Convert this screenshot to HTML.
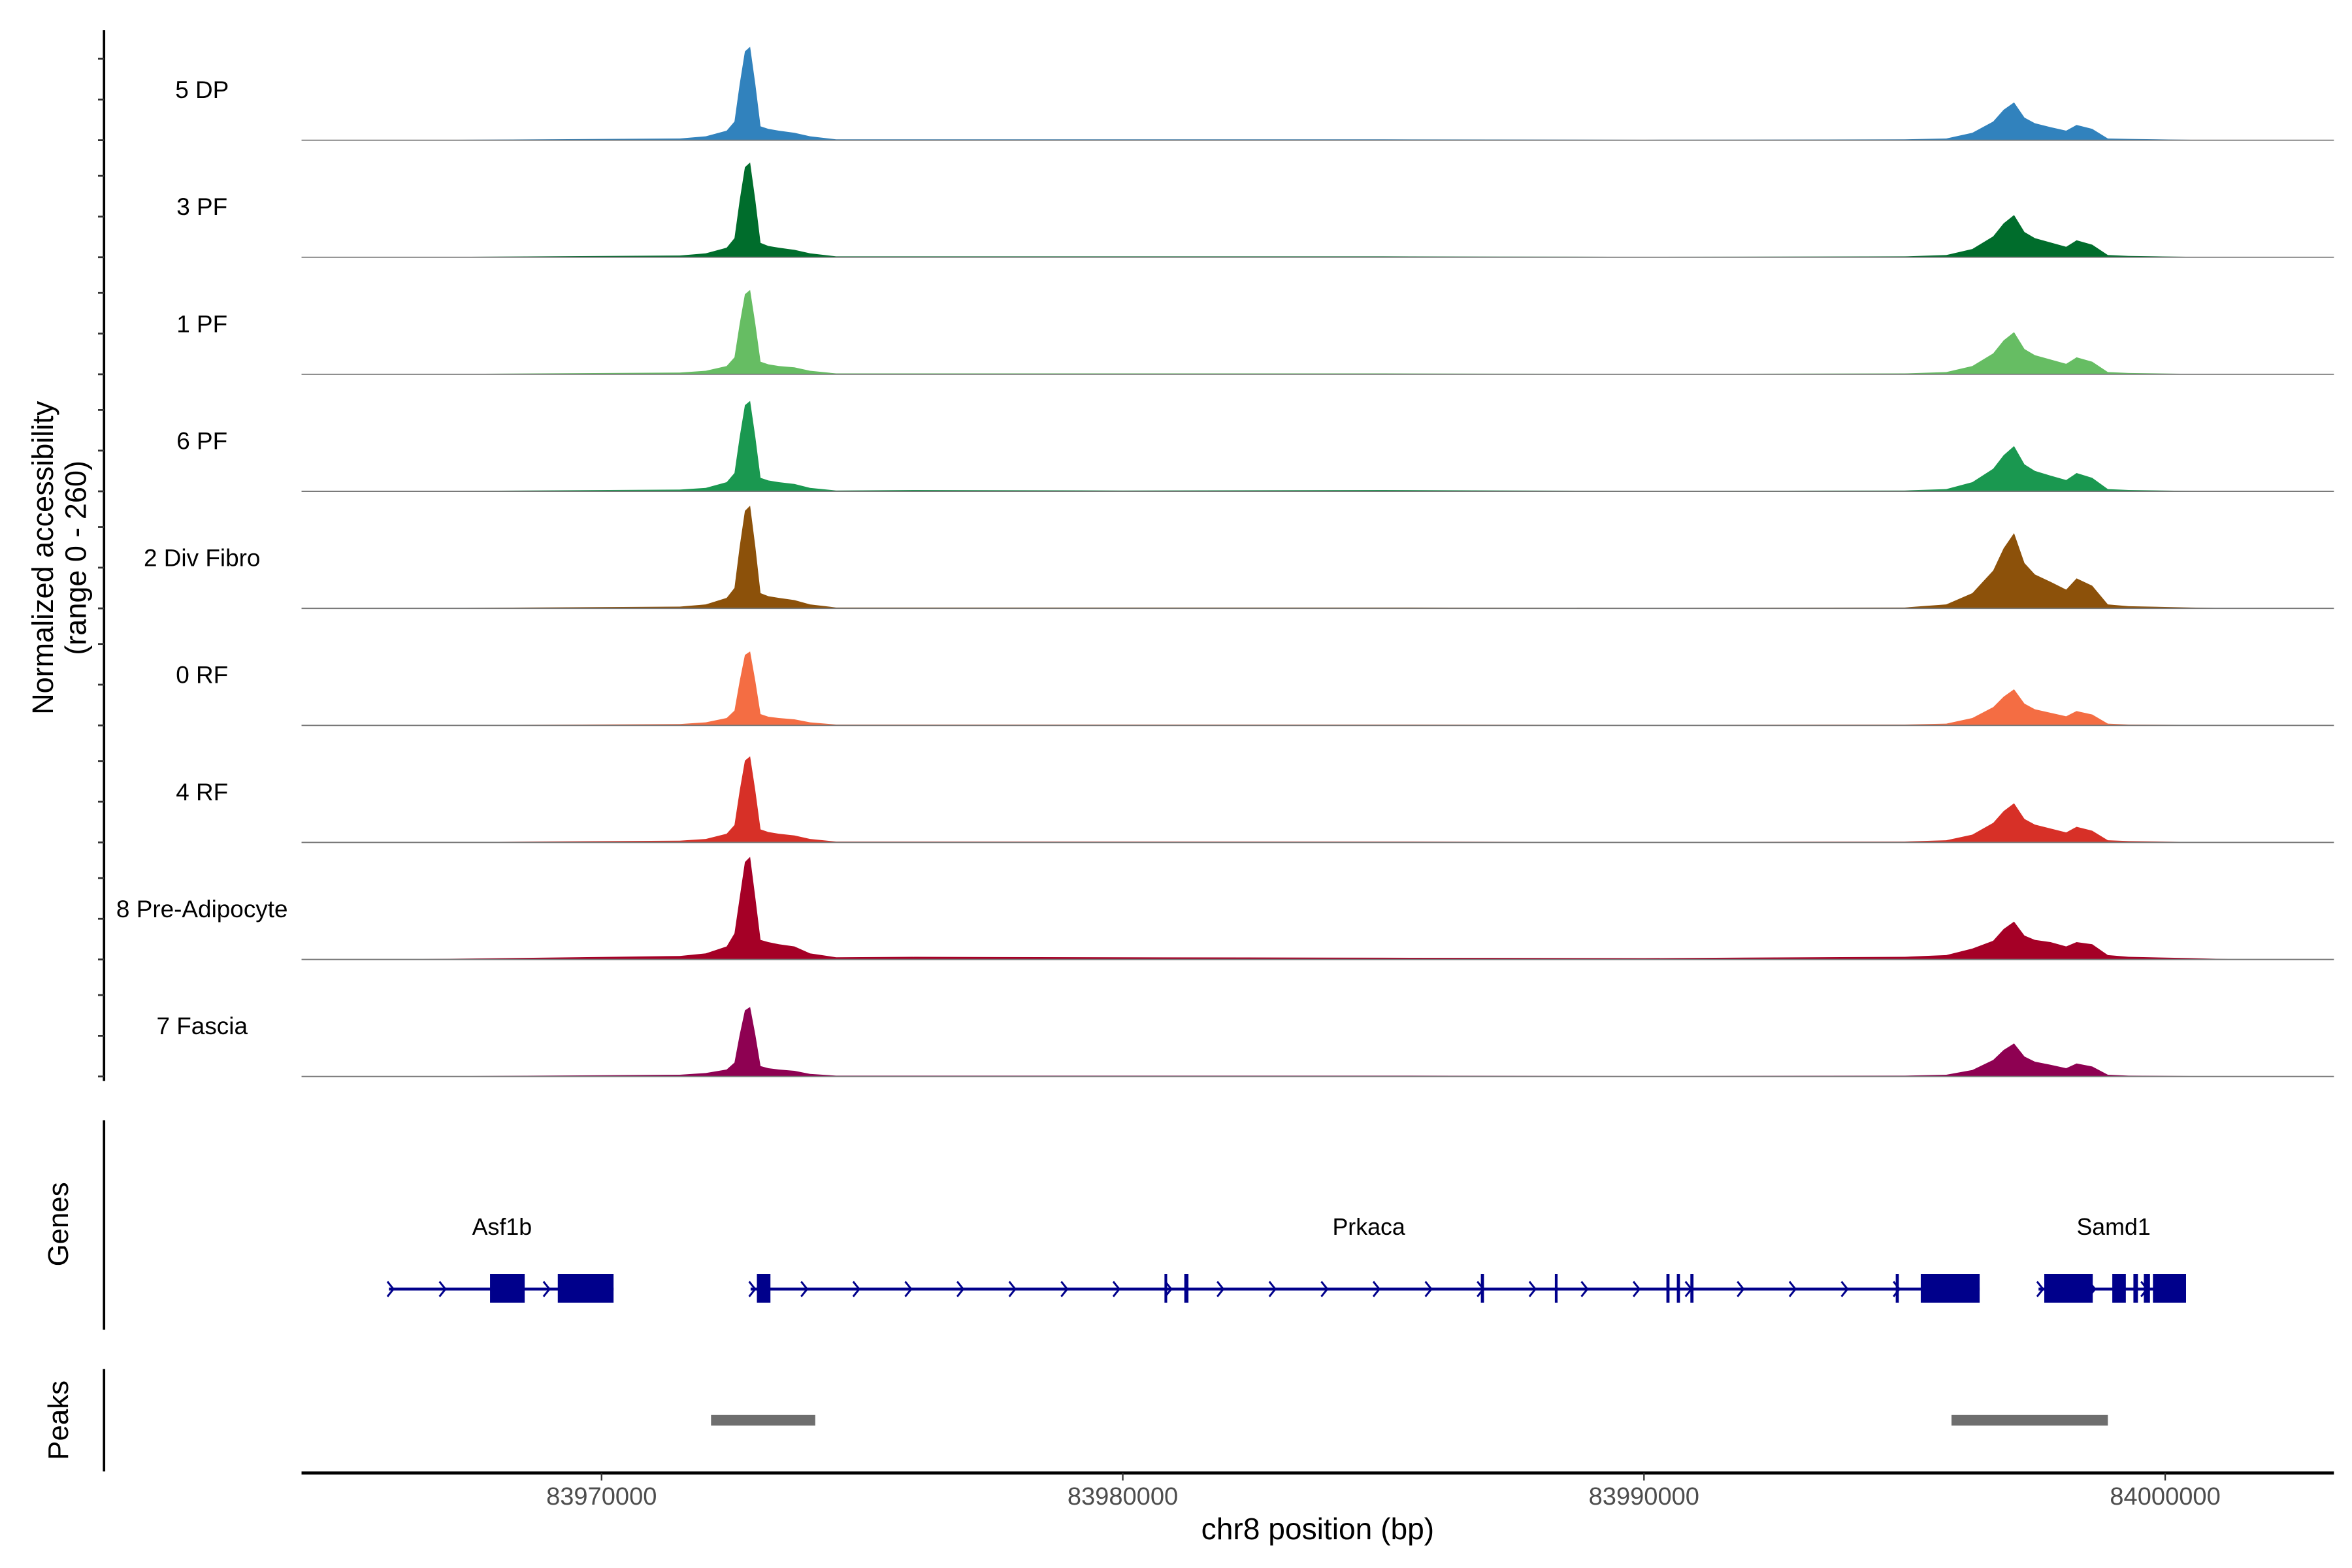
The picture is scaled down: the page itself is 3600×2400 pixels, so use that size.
<!DOCTYPE html>
<html><head><meta charset="utf-8">
<style>
html,body{margin:0;padding:0;background:#fff;}
svg{display:block;}
text{font-family:"Liberation Sans",sans-serif;}
</style></head>
<body>
<svg id="chart" xmlns="http://www.w3.org/2000/svg" width="3600" height="2400" viewBox="0 0 1560 1040" preserveAspectRatio="none">
<g id="tracks"></g>
<g id="yaxis">
  <line x1="69" y1="20" x2="69" y2="717" stroke="#000" stroke-width="1.6"/>
  <text transform="translate(35,370) rotate(-90)" text-anchor="middle" font-size="19.5">Normalized accessibility</text>
  <text transform="translate(57,370) rotate(-90)" text-anchor="middle" font-size="19.5">(range 0 - 260)</text>
</g>
<g id="genes">
  <line x1="69" y1="743" x2="69" y2="882" stroke="#000" stroke-width="1.6"/>
  <text transform="translate(45,812) rotate(-90)" text-anchor="middle" font-size="19">Genes</text>
</g>
<g id="peaks">
  <line x1="69" y1="908" x2="69" y2="976" stroke="#000" stroke-width="1.6"/>
  <text transform="translate(45,942) rotate(-90)" text-anchor="middle" font-size="19">Peaks</text>
</g>
<g id="xaxis">
  <line x1="200" y1="977" x2="1548" y2="977" stroke="#000" stroke-width="2"/>
  <text x="874" y="1021" text-anchor="middle" font-size="20">chr8 position (bp)</text>
</g>
</svg>
<script>
const NS="http://www.w3.org/2000/svg";
const trackNames=["5 DP","3 PF","1 PF","6 PF","2 Div Fibro","0 RF","4 RF","8 Pre-Adipocyte","7 Fascia"];
const trackColors=["#3182bd","#006d2c","#66bd63","#1a9850","#8c510a","#f46d43","#d73027","#a50026","#8e0152"];
const positions=[83966000,83971500,83972000,83972400,83972550,83972650,83972750,83972850,83972950,83973050,83973200,83973400,83973700,83974000,83974500,83976000,83980000,83985000,83990000,83995000,83995800,83996300,83996700,83996900,83997100,83997300,83997500,83997800,83998100,83998300,83998600,83998900,83999300,84000500,84001500];
const cov5DP=[0,4,9,22,43,129,204,215,129,32,26,22,17,9,2,2,2,2,1,2,4,17,43,70,87,52,39,30,22,35,26,4,3,1,0];
const cov3PF=[0,4,9,22,44,131,207,218,131,33,26,22,17,9,2,2,2,2,1,2,5,19,48,78,97,58,44,34,24,39,29,5,3,1,0];
const cov1PF=[0,4,8,19,39,116,184,194,116,29,23,19,16,8,2,2,2,2,1,2,5,19,48,78,97,58,44,34,24,39,29,5,3,1,0];
const cov6PF=[0,4,8,21,42,125,198,208,125,31,25,21,17,8,2,3,2,3,1,2,5,21,52,83,104,62,47,36,26,42,31,5,3,1,0];
const cov2Div=[0,4,9,24,47,142,224,236,142,35,28,24,19,9,2,2,2,2,1,2,9,35,87,138,173,104,78,61,43,69,52,9,5,2,0];
const cov0RF=[0,3,7,17,34,102,162,170,102,26,20,17,14,7,2,2,2,2,1,2,4,17,42,66,83,50,37,29,21,33,25,4,2,1,0];
const cov4RF=[0,4,8,20,40,119,188,198,119,30,24,20,16,8,2,2,2,2,1,2,5,18,45,72,90,54,41,32,23,36,27,5,3,1,0];
const cov8Pre=[0,8,14,30,60,142,224,236,142,45,40,35,30,14,5,6,5,4,3,6,10,25,43,70,87,55,45,40,30,40,35,10,6,3,0];
const cov7Fas=[0,4,8,16,32,96,152,160,96,24,19,16,13,6,2,2,2,2,1,2,4,15,38,61,76,46,34,27,19,30,23,4,2,1,0];
const coverage=[cov5DP,cov3PF,cov1PF,cov6PF,cov2Div,cov0RF,cov4RF,cov8Pre,cov7Fas];
const xTicks=[83970000,83980000,83990000,84000000];
const geneNames=["Asf1b","Prkaca","Samd1"];
const geneStarts=[83965920,83972860,83997570];
const geneEnds=[83970230,83996440,84000400];
const geneLabelPos=[83968090,83984720,83999010];
const exonStarts=[83967860,83969160,83972980,83980800,83981180,83986870,83988290,83990430,83990630,83990890,83994830,83995310,83997680,83998985,83999390,83999590,83999765];
const exonEnds=[83968525,83970230,83973240,83980850,83981260,83986930,83988340,83990490,83990690,83990950,83994890,83996440,83998610,83999245,83999477,83999708,84000400];
const peakStarts=[83972100,83995900];
const peakEnds=[83974100,83998900];

const xS=p=>399+(p-83970000)*0.03457;
const baseY=i=>93+i*77.625;
const yS=v=>v*75/260;

const tracks=document.getElementById('tracks');
const yaxis=document.getElementById('yaxis');
function mk(tag,attrs,parent){const e=document.createElementNS(NS,tag);for(const k in attrs)e.setAttribute(k,attrs[k]);parent.appendChild(e);return e;}

coverage.forEach((vals,i)=>{
  const b=baseY(i);
  const g=mk('g',{},tracks);
  
  
  let d='M'+xS(positions[0])+','+b;
  positions.forEach((p,j)=>{d+=' L'+xS(p).toFixed(2)+','+(b-yS(vals[j])).toFixed(2);});
  d+=' L'+xS(positions[positions.length-1])+','+b+' Z';
  const a=mk('path',{d:d,fill:trackColors[i]},g);
  
  
  const bl=mk('line',{x1:200,y1:b,x2:1548,y2:b,stroke:'#777','stroke-width':0.8},g);
  
  
  const t=mk('text',{x:134,y:b-28,'text-anchor':'middle','font-size':16},g);
  t.textContent=trackNames[i];
  
  
  [0,27,54].forEach(o=>{
    const tk=mk('line',{x1:65,y1:b-o,x2:69,y2:b-o,stroke:'#333','stroke-width':1.2},yaxis);
    
    
  });
});

const genes=document.getElementById('genes');
const gy=855;
geneNames.forEach((n,i)=>{
  const x1=xS(geneStarts[i]),x2=xS(geneEnds[i]);
  const l=mk('line',{x1:x1,y1:gy,x2:x2,y2:gy,stroke:'#00008b','stroke-width':2},genes);
  
  
  for(let x=x1+1;x<x2-5;x+=34.5){
    const c=mk('polyline',{points:(x-2)+','+(gy-5)+' '+(x+2)+','+gy+' '+(x-2)+','+(gy+5),fill:'none',stroke:'#00008b','stroke-width':1.3},genes);
    
    
  }
  const t=mk('text',{x:xS(geneLabelPos[i]),y:819,'text-anchor':'middle','font-size':15.5},genes);
  t.textContent=n;
  
  
});
exonStarts.forEach((s,i)=>{
  const x1=xS(s),x2=xS(exonEnds[i]);
  const r=mk('rect',{x:x1,y:845,width:Math.max(1.8,x2-x1),height:19,fill:'#00008b'},genes);
  
  
});

const peaks=document.getElementById('peaks');
peakStarts.forEach((s,i)=>{
  const r=mk('rect',{x:xS(s),y:938.5,width:xS(peakEnds[i])-xS(s),height:7,fill:'#6e6e6e'},peaks);
  
  
});

const xaxis=document.getElementById('xaxis');
xTicks.forEach(p=>{
  const x=xS(p);
  const tk=mk('line',{x1:x,y1:977,x2:x,y2:982,stroke:'#333','stroke-width':1},xaxis);
  
  
  const t=mk('text',{x:x,y:998,'text-anchor':'middle','font-size':16.5,fill:'#4d4d4d'},xaxis);
  t.textContent=String(p);
  
  
});
</script>
</body></html>
